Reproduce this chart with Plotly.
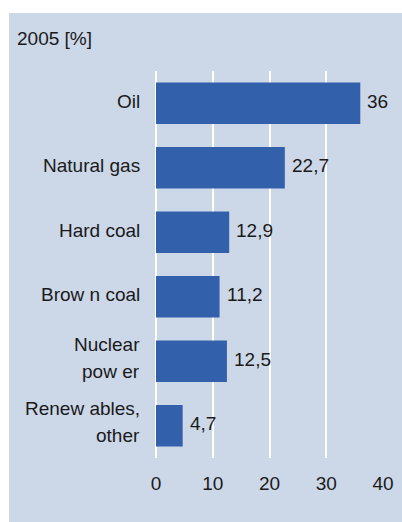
import plotly.graph_objects as go

categories = ["Oil", "Natural gas", "Hard coal", "Brow n coal", "Nuclear<br>pow er", "Renew ables,<br>other"]
values = [36, 22.7, 12.9, 11.2, 12.5, 4.7]
x_ticks = [0, 10, 20, 30, 40]
title_text = "2005 [%]"

PANEL = "#CCD7E8"
BAR = "#3260AA"
FONT = "Liberation Sans, Arial, sans-serif"
TXT = "#1a1a1a"
FS = 19

# figure fills the whole page (body margin removed below)
W, H = 402, 522
L, R, T, B = 155.5, 18.7, 71, 64
pw, ph = W - L - R, H - T - B


def fmt(v):
    return str(int(v)) if float(v).is_integer() else str(v).replace(".", ",")


fig = go.Figure()
fig.add_trace(go.Bar(
    x=values, y=categories, orientation="h",
    marker=dict(color=BAR, line=dict(width=0)),
    hoverinfo="skip",
))

# value labels
for c, v in zip(categories, values):
    fig.add_annotation(x=v, y=c, xref="x", yref="y", text=fmt(v), showarrow=False,
                       xanchor="left", yanchor="middle", xshift=5, yshift=2,
                       font=dict(family=FONT, size=FS, color=TXT))

# category labels (one annotation per line for the wider line spacing)
for c in categories:
    lines = c.split("<br>")
    shifts = [2] if len(lines) == 1 else [17, -10]
    for line, ys in zip(lines, shifts):
        fig.add_annotation(x=0, y=c, xref="paper", yref="y", text=line, showarrow=False,
                           xanchor="right", yanchor="middle", xshift=-14, yshift=ys,
                           font=dict(family=FONT, size=FS, color=TXT))

# panel background
fig.add_shape(type="rect", xref="paper", yref="paper",
              x0=(8 - L) / pw, x1=(W + 10 - L) / pw,
              y0=(H - B - H - 10) / ph, y1=(H - B - 13) / ph,
              fillcolor=PANEL, line=dict(width=0), layer="below")

fig.add_annotation(xref="paper", yref="paper", x=(14 - L) / pw, y=(H - B - 39) / ph,
                   text=title_text, showarrow=False, xanchor="left", yanchor="middle",
                   font=dict(family=FONT, size=FS, color=TXT))

fig.update_layout(
    width=W, height=H,
    margin=dict(l=L, r=R, t=T, b=B, pad=0, autoexpand=False),
    paper_bgcolor="white", plot_bgcolor=PANEL,
    bargap=0.36, showlegend=False,
    font=dict(family=FONT, size=FS, color=TXT),
    xaxis=dict(range=[0, 40], tickvals=x_ticks, ticktext=[str(t) for t in x_ticks],
               showgrid=True, gridcolor="white", gridwidth=2,
               zeroline=True, zerolinecolor="white", zerolinewidth=2,
               showline=False, ticks="", ticklabelstandoff=12, automargin=False,
               tickfont=dict(family=FONT, size=FS, color=TXT), fixedrange=True),
    yaxis=dict(categoryorder="array", categoryarray=categories, autorange="reversed",
               showgrid=False, zeroline=False, showline=False, ticks="",
               showticklabels=False, automargin=False, fixedrange=True),
)

fig.write_html("out.html", config={"displayModeBar": False},
               post_script="document.body.style.margin='0';document.body.style.overflow='hidden';")
